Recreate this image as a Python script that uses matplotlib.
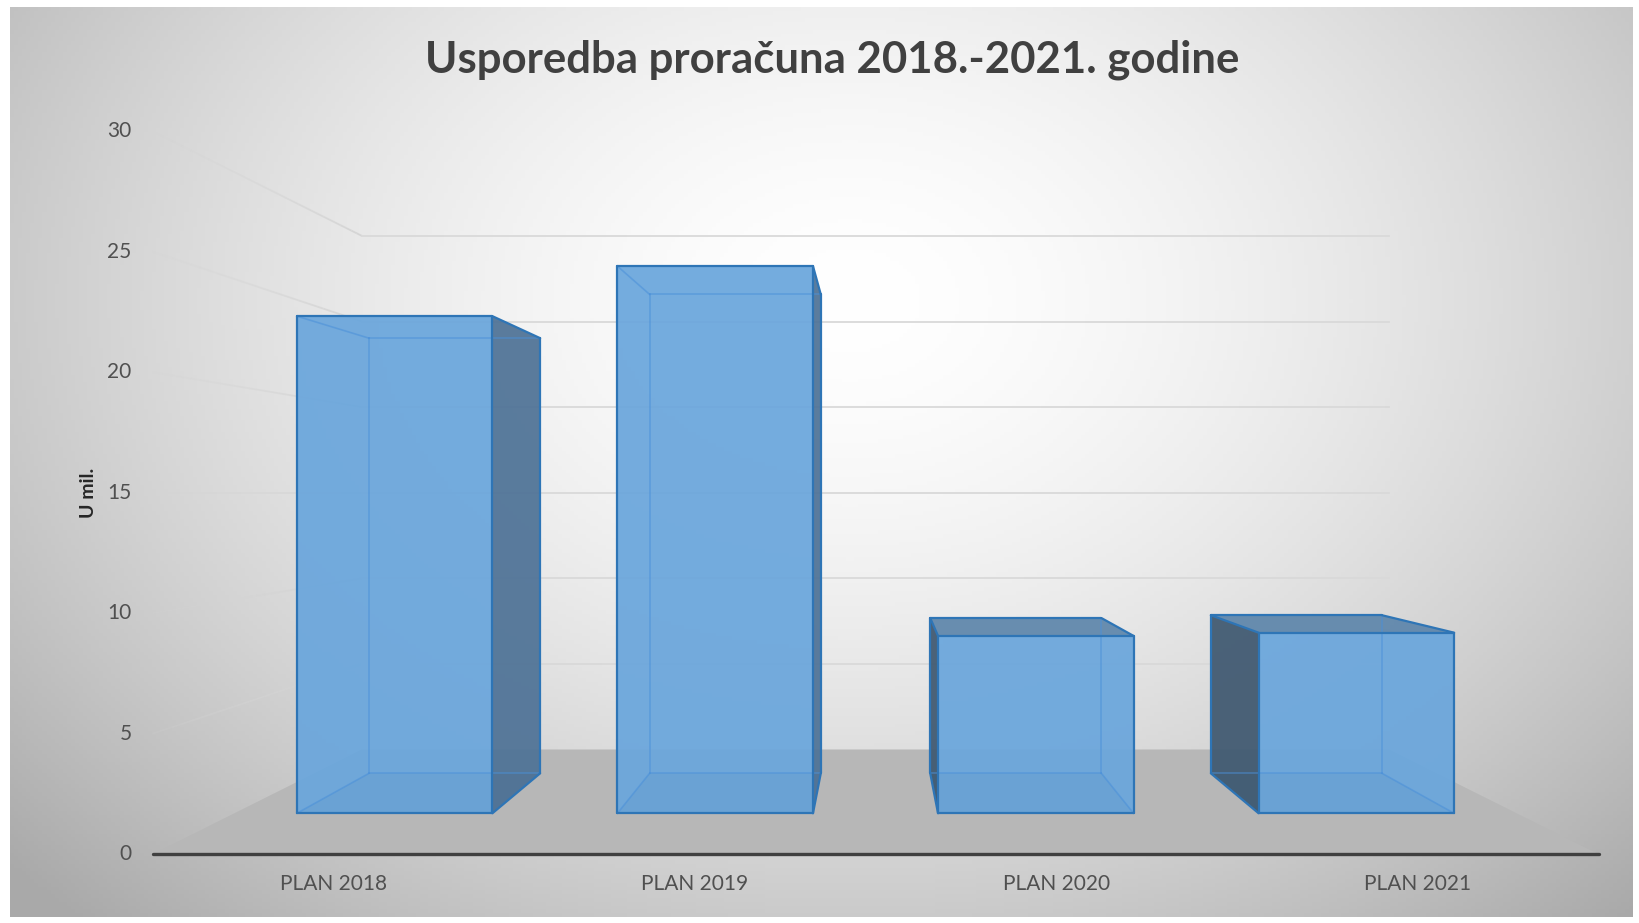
import numpy as np
import matplotlib
matplotlib.use("Agg")
import matplotlib.pyplot as plt
from matplotlib.patches import Polygon

# data
categories = ["PLAN 2018", "PLAN 2019", "PLAN 2020", "PLAN 2021"]
values = [23.26, 25.6, 8.3, 8.45]
y_ticks = [0, 5, 10, 15, 20, 25, 30]
title = "Usporedba proračuna 2018.-2021. godine"
y_label = "U mil."

W, H = 1639, 923

# camera set-up (Excel-like 3D perspective)
VP_X = 875.5      # vanishing point x (px)
HOR_Y = 492.7     # horizon (px)
EYE = 15.0        # eye height in value units
K_FRONT = 24.1    # px per unit at front of floor
K_BACK = 17.12    # px per unit at back wall
HALF = 30.0       # half width of the floor in world units
Z_BAR = (0.313, 0.707)
BAR_W = 9.15


def k_at(z):
    return 1.0 / (1.0 / K_FRONT + z * (1.0 / K_BACK - 1.0 / K_FRONT))


def proj(x, y, z):
    k = k_at(z)
    return VP_X + x * k, HOR_Y - (y - EYE) * k


fig = plt.figure(figsize=(W / 100, H / 100), dpi=100)
fig.patch.set_facecolor("white")
ax = fig.add_axes([0, 0, 1, 1])
ax.set_xlim(0, W)
ax.set_ylim(H, 0)
ax.axis("off")

# radial background
gx, gy = np.meshgrid(np.linspace(10, W - 6, 400), np.linspace(7, H - 6, 240))
r = np.sqrt(((gx - 850) / 950) ** 2 + ((gy - 300) / 700) ** 2)
g = 1 - 0.25 * np.clip(r, 0, 1.2) ** 1.6
ax.imshow(np.dstack([g, g, g]), extent=(10, W - 6, H - 6, 7), aspect="auto", zorder=0)

# floor
floor = [proj(-HALF, 0, 0), proj(HALF, 0, 0), proj(HALF, 0, 1), proj(-HALF, 0, 1)]
ax.add_patch(Polygon(floor, closed=True, facecolor="#b7b7b7", edgecolor="none", zorder=1))

# gridlines: left wall (fading to the front) and back wall
for t in y_ticks[1:]:
    zs = np.linspace(0, 1, 30)
    for i in range(len(zs) - 1):
        p0 = proj(-HALF, t, zs[i])
        p1 = proj(-HALF, t, zs[i + 1])
        ax.plot([p0[0], p1[0]], [p0[1], p1[1]], color="#d4d4d4", lw=1.3,
                alpha=0.15 + 0.85 * zs[i], solid_capstyle="butt", zorder=2)
    b0 = proj(-HALF, t, 1)
    b1 = proj(HALF, t, 1)
    ax.plot([b0[0], b1[0]], [b0[1], b1[1]], color="#d9d9d9", lw=1.3, zorder=2)

# bars
centers = [-HALF + (i + 0.5) * (2 * HALF / len(categories)) for i in range(len(categories))]
face_col = {"front": "#6aa6dc", "left": "#3f5870", "right": "#4e7296", "top": "#5e86ab"}

for c, v in zip(centers, values):
    x0, x1 = c - BAR_W / 2, c + BAR_W / 2
    z0, z1 = Z_BAR
    corners = {}
    for xi, xv in enumerate((x0, x1)):
        for yi, yv in enumerate((0, v)):
            for zi, zv in enumerate((z0, z1)):
                corners[(xi, yi, zi)] = proj(xv, yv, zv)
    faces = {
        "front": [(0, 0, 0), (1, 0, 0), (1, 1, 0), (0, 1, 0)],
        "back": [(0, 0, 1), (1, 0, 1), (1, 1, 1), (0, 1, 1)],
        "left": [(0, 0, 0), (0, 0, 1), (0, 1, 1), (0, 1, 0)],
        "right": [(1, 0, 0), (1, 0, 1), (1, 1, 1), (1, 1, 0)],
        "top": [(0, 1, 0), (1, 1, 0), (1, 1, 1), (0, 1, 1)],
        "bottom": [(0, 0, 0), (1, 0, 0), (1, 0, 1), (0, 0, 1)],
    }
    visible = ["front"]
    if v < EYE:
        visible.append("top")
    if x0 > 0:
        visible.append("left")
    if x1 < 0:
        visible.append("right")

    for name in visible:
        pts = [corners[k] for k in faces[name]]
        ax.add_patch(Polygon(pts, closed=True, facecolor=face_col[name], alpha=0.93,
                             edgecolor="none", zorder=3))
    # slight darkening from the bottom face seen through
    ax.add_patch(Polygon([corners[k] for k in faces["bottom"]], closed=True,
                         facecolor="#1f4e79", alpha=0.05, edgecolor="none", zorder=3))

    edges = []
    for a in corners:
        for b in corners:
            if a < b and sum(abs(p - q) for p, q in zip(a, b)) == 1:
                edges.append((a, b))
    vis_edges, hid_edges = [], []
    for a, b in edges:
        on_vis = any(a in faces[n] and b in faces[n] for n in visible)
        (vis_edges if on_vis else hid_edges).append((a, b))
    for a, b in hid_edges:
        pa, pb = corners[a], corners[b]
        ax.plot([pa[0], pb[0]], [pa[1], pb[1]], color="#4a90d9", lw=1.2, alpha=0.55, zorder=4)
    for a, b in vis_edges:
        pa, pb = corners[a], corners[b]
        ax.plot([pa[0], pb[0]], [pa[1], pb[1]], color="#2e75b6", lw=1.6,
                solid_capstyle="round", zorder=5)

# front axis line
f0, f1 = proj(-HALF, 0, 0), proj(HALF, 0, 0)
ax.plot([f0[0], f1[0]], [f0[1], f1[1]], color="#404040", lw=2.4, zorder=6,
        solid_capstyle="round")

# tick labels
for t in y_ticks:
    x, y = proj(-HALF, t, 0)
    ax.text(x - 21, y, str(t), ha="right", va="center", fontsize=15,
            color="#505050", family="Lato", zorder=7)

for c, name in zip(centers, categories):
    x, y = proj(c, 0, 0)
    ax.text(x, y + 30, name, ha="center", va="center", fontsize=15,
            color="#505050", family="Lato", zorder=7)

ax.text(88, HOR_Y, y_label, rotation=90, ha="center", va="center", fontsize=14,
        fontweight="bold", color="#262626", family="Lato", zorder=7)

ax.text(832, 60, title, ha="center", va="center", fontsize=31.5, fontweight="bold",
        color="#404040", family="Lato", zorder=7)

fig.savefig("out.png", dpi=100, facecolor=fig.get_facecolor())
